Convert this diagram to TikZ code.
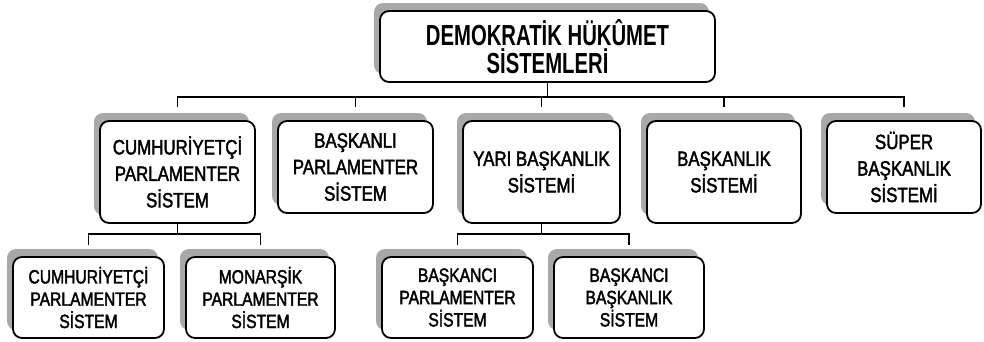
\documentclass[tikz,border=0pt]{standalone}
\usepackage{fontspec}
\setmainfont{Liberation Sans}[FakeStretch=0.815,FakeBold=2]
\newfontfamily\headfont{Liberation Sans}[FakeStretch=0.7]
\usetikzlibrary{shadows}
\definecolor{shadowgray}{HTML}{A7A8AA}

\begin{document}
\begin{tikzpicture}[x=1pt,y=-1pt,
  box/.style={draw,line width=1.8pt,rounded corners=9pt,fill=white,align=center,inner sep=0pt,
    general shadow={fill=shadowgray,shadow xshift=-6pt,shadow yshift=8pt}},
  big/.style={box,minimum width=155pt,minimum height=102pt,font=\fontsize{20.7}{26.5}\selectfont},
  small/.style={box,minimum width=151pt,minimum height=81pt,font=\fontsize{19.2}{22.3}\selectfont},
  link/.style={line width=1.2pt}]
  \useasboundingbox (0,0) rectangle (984,341);

  \node (root) at (547.5,46.5) [box,minimum width=335pt,minimum height=71pt,font=\headfont\bfseries\fontsize{29}{28.3}\selectfont] {DEMOKRATİK HÜKÛMET\\SİSTEMLERİ};

  \node (n1) at (177.5,172) [big] {CUMHURİYETÇİ\\PARLAMENTER\\SİSTEM};
  \node (n2) at (355.5,167) [big,minimum height=92pt] {BAŞKANLI\\PARLAMENTER\\SİSTEM};
  \node (n3) at (541.5,172) [big,minimum width=157pt] {YARI BAŞKANLIK\\SİSTEMİ};
  \node (n4) at (724,172) [big,minimum width=154pt] {BAŞKANLIK\\SİSTEMİ};
  \node (n5) at (904,167) [big,minimum width=154pt,minimum height=92pt] {SÜPER\\BAŞKANLIK\\SİSTEMİ};

  \node (n11) at (88.5,297.5) [small] {CUMHURİYETÇİ\\PARLAMENTER\\SİSTEM};
  \node (n12) at (260.5,297.5) [small,minimum width=149pt] {MONARŞİK\\PARLAMENTER\\SİSTEM};
  \node (n31) at (457.5,297.5) [small] {BAŞKANCI\\PARLAMENTER\\SİSTEM};
  \node (n32) at (629,297.5) [small,minimum width=150pt] {BAŞKANCI\\BAŞKANLIK\\SİSTEM};

  \coordinate (bus) at (0,97);
  \coordinate (bus1) at (0,234);

  \draw [link] (root.south) -- (root.south |- bus);
  \draw [link,shorten <=13pt,shorten >=13pt] (n1.north) -- (n1.north |- bus) -- (n5.north |- bus) -- (n5.north);
  \draw [link,shorten <=13pt] (n2.north) -- (n2.north |- bus);
  \draw [link,shorten <=13pt] (n3.north) -- (n3.north |- bus);
  \draw [link,shorten <=13pt] (n4.north) -- (n4.north |- bus);

  \draw [link] (n1.south) -- (n1.south |- bus1);
  \draw [link,shorten <=11pt,shorten >=11pt] (n11.north) -- (n11.north |- bus1) -- (n12.north |- bus1) -- (n12.north);
  \draw [link] (n3.south) -- (n3.south |- bus1);
  \draw [link,shorten <=11pt,shorten >=11pt] (n31.north) -- (n31.north |- bus1) -- (n32.north |- bus1) -- (n32.north);
\end{tikzpicture}
\end{document}
